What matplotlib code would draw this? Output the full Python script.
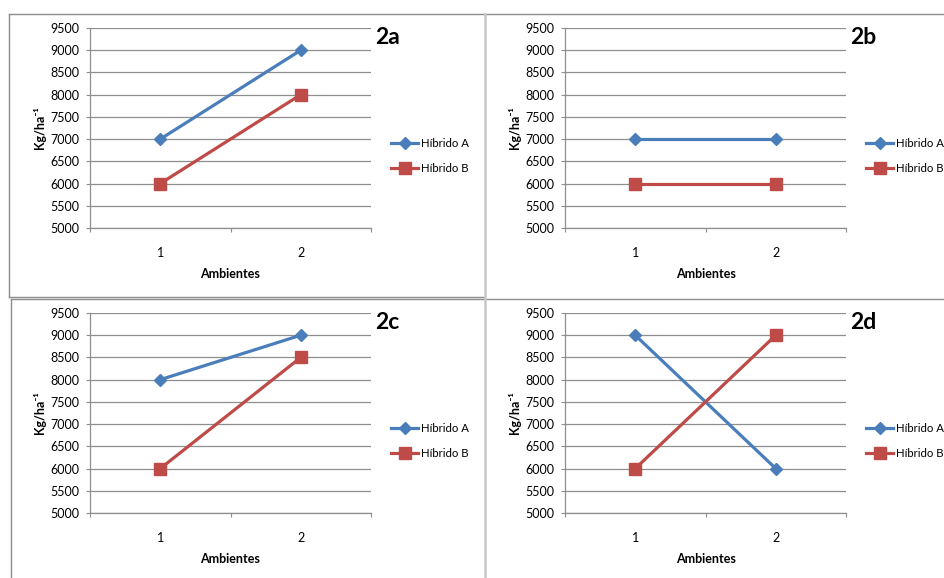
import matplotlib.pyplot as plt
from matplotlib.lines import Line2D

plt.rcParams["font.family"] = ["Lato", "DejaVu Sans"]

# Rendimento (kg/ha) de dois hibridos em dois ambientes, quatro cenarios
ambientes = [1, 2]
paineis = ["2a", "2b", "2c", "2d"]
hibrido_a = {
    "2a": [7000, 9000],
    "2b": [7000, 7000],
    "2c": [8000, 9000],
    "2d": [9000, 6000],
}
hibrido_b = {
    "2a": [6000, 8000],
    "2b": [6000, 6000],
    "2c": [6000, 8500],
    "2d": [6000, 9000],
}
y_ticks = list(range(5000, 10000, 500))

AZUL = "#4A7EBB"
VERMELHO = "#BE4B48"
GRADE = "#8E8E8E"

W, H = 944, 578
fig = plt.figure(figsize=(W / 100, H / 100), dpi=100)

# caixas de cada grafico (pixels: x0, y_topo, x1, y_base)
caixas = {
    "2a": (90, 28, 371, 228),
    "2b": (565, 28, 846, 228),
    "2c": (90, 313, 371, 513),
    "2d": (565, 313, 846, 513),
}


def px(x0, y0, x1, y1):
    return [x0 / W, 1 - y1 / H, (x1 - x0) / W, (y1 - y0) / H]


def borda(xs, ys, cor="#8C8C8C", lw=1.0):
    fig.add_artist(Line2D([x / W for x in xs], [1 - y / H for y in ys],
                          color=cor, lw=lw, transform=fig.transFigure))


# molduras dos graficos
borda([9, W], [14, 14])
borda([9, 9], [14, 297])
borda([9, 484], [297, 297])
borda([11, W], [299, 299])
borda([11, 11], [299, H])
borda([485, 485], [14, H], cor="#C8C8C8", lw=1.8)

for p in paineis:
    ax = fig.add_axes(px(*caixas[p]))
    ax.plot(ambientes, hibrido_a[p], color=AZUL, lw=2.3, marker="D",
            ms=6, label="Híbrido A", zorder=3)
    ax.plot(ambientes, hibrido_b[p], color=VERMELHO, lw=2.3, marker="s",
            ms=8, label="Híbrido B", zorder=3)

    ax.set_xlim(0.5, 2.5)
    ax.set_ylim(5000, 9500)
    ax.set_yticks(y_ticks)
    ax.set_xticks(ambientes)
    ax.set_xticks([0.5, 1.5, 2.5], minor=True)
    ax.grid(axis="y", color=GRADE, lw=0.9)
    ax.set_axisbelow(True)

    for lado in ["top", "right"]:
        ax.spines[lado].set_visible(False)
    for lado in ["left", "bottom"]:
        ax.spines[lado].set_color(GRADE)
        ax.spines[lado].set_linewidth(0.9)

    ax.tick_params(axis="y", length=3, width=0.8, color=GRADE, pad=5,
                   labelsize=9)
    ax.tick_params(axis="x", which="major", length=0, pad=14, labelsize=9)
    ax.tick_params(axis="x", which="minor", length=3, width=0.8, color=GRADE)

    ax.set_xlabel("Ambientes", fontsize=9, fontweight="bold")
    ax.xaxis.set_label_coords(0.5, -0.2)
    ax.text(-0.18, 0.5, "Kg/ha\u207b\u00b9", transform=ax.transAxes,
            rotation=90, ha="center", va="center", fontsize=9,
            fontweight="bold")

    ax.text(1.013, 0.955, p, transform=ax.transAxes, fontsize=16.5,
            fontweight="bold", ha="left", va="center")

    ax.legend(loc="center left", bbox_to_anchor=(1.071, 0.36),
              frameon=False, fontsize=8.2, handlelength=2.4,
              handletextpad=0.2, labelspacing=1.15, borderpad=0,
              borderaxespad=0)

fig.savefig("out.png", dpi=100)
